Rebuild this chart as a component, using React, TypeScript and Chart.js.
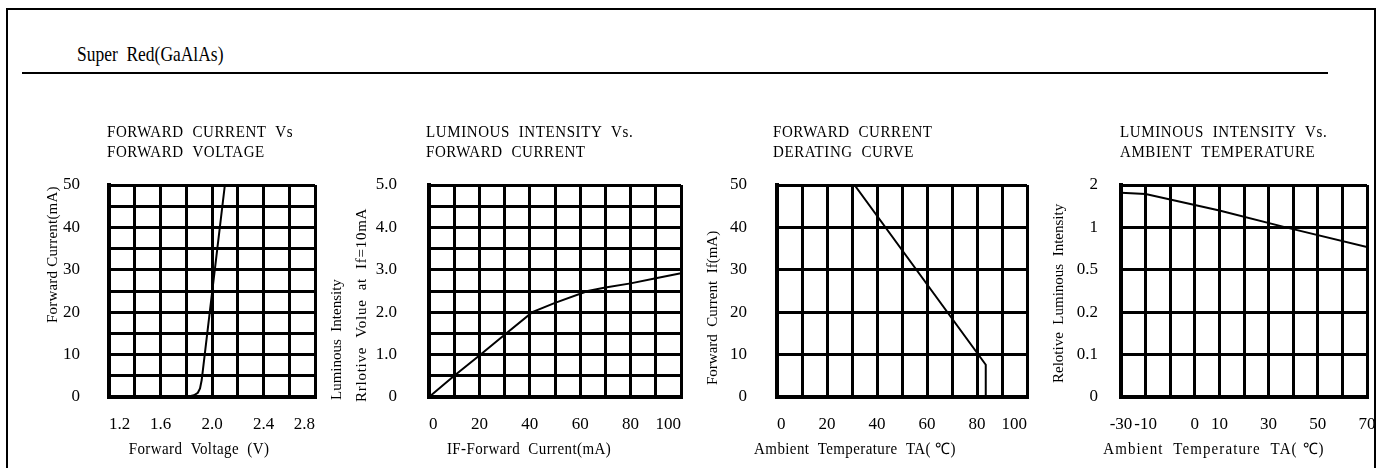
import React, { useEffect, useRef } from 'react';
import { Chart, registerables, LinearScale } from 'chart.js';

Chart.register(...registerables);

// ---------- data ----------
// 1. Forward current vs forward voltage
const fvVoltage = [1.2, 1.8, 1.86, 1.89, 1.907, 1.92, 2.1];
const fvCurrent = [0, 0, 0.4, 1.0, 2.0, 4.0, 50];
const fvGridX = [1.2, 1.4, 1.6, 1.8, 2.0, 2.2, 2.4, 2.6, 2.8];
const fvTickX = ['1.2', '', '1.6', '', '2.0', '', '2.4', '', '2.8'];
const fvGridY = [0, 5, 10, 15, 20, 25, 30, 35, 40, 45, 50];
const fvTickY = ['0', '', '10', '', '20', '', '30', '', '40', '', '50'];

// 2. Luminous intensity vs forward current
const liCurrent = [0, 10, 20, 30, 41, 50, 63, 70, 80, 90, 100];
const liRelative = [0, 0.5, 0.98, 1.47, 2.0, 2.22, 2.5, 2.58, 2.68, 2.8, 2.92];
const liGridX = [0, 10, 20, 30, 40, 50, 60, 70, 80, 90, 100];
const liTickX = ['0', '', '20', '', '40', '', '60', '', '80', '', '100'];
const liGridY = [0, 0.5, 1, 1.5, 2, 2.5, 3, 3.5, 4, 4.5, 5];
const liTickY = ['0', '', '1.0', '', '2.0', '', '3.0', '', '4.0', '', '5.0'];

// 3. Forward current derating curve
const drTemp = [0, 31, 83.5, 83.5];
const drCurrent = [50, 50, 7.6, 0];
const drGridX = [0, 10, 20, 30, 40, 50, 60, 70, 80, 90, 100];
const drTickX = ['0', '', '20', '', '40', '', '60', '', '80', '', '100'];
const drGridY = [0, 10, 20, 30, 40, 50];
const drTickY = ['0', '10', '20', '30', '40', '50'];

// 4. Luminous intensity vs ambient temperature
const atTemp = [-30, -20, 10, 37, 70];
const atRelative = [1.82, 1.79, 1.4, 1.0, 0.77];
const atGridX = [-30, -20, -10, 0, 10, 20, 30, 40, 50, 60, 70];
const atTickX = ['-30', '-10', '', '0', '10', '', '30', '', '50', '', '70'];
const atLevels = [0, 0.1, 0.2, 0.5, 1, 2];
const atTickY = ['0', '0.1', '0.2', '0.5', '1', '2'];

// texts
const headings = [
  ['FORWARD  CURRENT  Vs', 'FORWARD  VOLTAGE'],
  ['LUMINOUS  INTENSITY  Vs.', 'FORWARD  CURRENT'],
  ['FORWARD  CURRENT', 'DERATING  CURVE'],
  ['LUMINOUS  INTENSITY  Vs.', 'AMBIENT  TEMPERATURE'],
];
const xTitles = [
  'Forward  Voltage  (V)',
  'IF-Forward  Current(mA)',
  'Ambient  Temperature  TA( \u2103)',
  'Ambient  Temperature  TA( \u2103)',
];
const yTitles = [
  ['Forward Current(mA)'],
  ['Luminous  Intensity', 'Rrlotive  Volue  at  If=10mA'],
  ['Forward  Current  If(mA)'],
  ['Relotive  Luminous  Intensity'],
];

const FONT = '"Liberation Serif", "Times New Roman", serif';
Chart.defaults.font.family = FONT;
Chart.defaults.color = '#000';

// scale whose tick values are equally spaced (0, 0.1, 0.2, 0.5, 1, 2)
class LevelScale extends LinearScale {
  static id = 'level';
  levels(): number[] {
    return ((this.options as any).levels as number[]) || atLevels;
  }
  getPixelForValue(value: number) {
    const lv = this.levels();
    const n = lv.length - 1;
    let pos = 0;
    if (value >= lv[n]) pos = n;
    else if (value > lv[0]) {
      for (let i = 0; i < n; i++) {
        if (value <= lv[i + 1]) {
          pos = i + (value - lv[i]) / (lv[i + 1] - lv[i]);
          break;
        }
      }
    }
    return this.getPixelForDecimal(pos / n);
  }
  getValueForPixel(pixel: number) {
    const lv = this.levels();
    const n = lv.length - 1;
    const pos = this.getDecimalForPixel(pixel) * n;
    const i = Math.max(0, Math.min(n - 1, Math.floor(pos)));
    return lv[i] + (pos - i) * (lv[i + 1] - lv[i]);
  }
}
Chart.register(LevelScale as any);

function drawText(ctx: any, text: string, x: number, y: number, sy: number) {
  ctx.save();
  ctx.translate(x, y);
  ctx.scale(1, sy);
  ctx.fillText(text, 0, 0);
  ctx.restore();
}

const sheetText = {
  id: 'sheetText',
  afterDraw(chart: any, _args: any, opts: any) {
    const { ctx, chartArea: a } = chart;
    ctx.save();
    ctx.fillStyle = '#000';
    // heading
    ctx.font = `15px ${FONT}`;
    ctx.letterSpacing = '0.6px';
    ctx.textAlign = 'left';
    ctx.textBaseline = 'alphabetic';
    (opts.heading as string[]).forEach((t, i) => {
      drawText(ctx, t, a.left + opts.headingDx, a.top - 48 + i * 20, 1.12);
    });
    // x title
    ctx.letterSpacing = `${opts.xTitleLs}px`;
    ctx.textAlign = 'center';
    drawText(ctx, opts.xTitle, (a.left + a.right) / 2 + opts.xTitleDx, a.bottom + 57, 1.05);
    // y titles
    (opts.yTitles as any[]).forEach((t) => {
      ctx.save();
      ctx.letterSpacing = `${t.ls}px`;
      ctx.translate(a.left + t.dx, a.bottom + t.dy);
      ctx.rotate(-Math.PI / 2);
      ctx.textAlign = 'left';
      ctx.textBaseline = 'middle';
      ctx.fillText(t.text, 0, 0);
      ctx.restore();
    });
    ctx.restore();
  },
};

type Spec = {
  left: number;
  width: number;
  yAxisWidth: number;
  padRight: number;
  yPad: number;
  xAlign: string;
  xs: number[];
  ys: number[];
  xGrid: number[];
  xTicks: string[];
  yGrid: number[];
  yTicks: string[];
  yType: string;
  heading: string[];
  headingDx: number;
  xTitle: string;
  xTitleDx: number;
  xTitleLs: number;
  yTitles: { text: string; dx: number; dy: number; ls: number }[];
};

const TOP = 110;
const HEIGHT = 358;
const PLOT_TOP = 75;
const X_AXIS_H = 71;

function makeConfig(s: Spec): any {
  const gridOpts = { color: '#000', lineWidth: 3, drawTicks: false };
  const borderOpts = { display: true, color: '#000', width: 4 };
  return {
    type: 'line',
    data: {
      datasets: [
        {
          data: s.xs.map((x, i) => ({ x, y: s.ys[i] })),
          borderColor: '#000',
          borderWidth: 2,
          pointRadius: 0,
          tension: 0,
          fill: false,
        },
      ],
    },
    options: {
      responsive: false,
      animation: false,
      events: [],
      layout: { padding: { left: 0, top: PLOT_TOP, right: s.padRight, bottom: 0 } },
      plugins: {
        legend: { display: false },
        tooltip: { enabled: false },
        title: { display: false },
        sheetText: {
          heading: s.heading,
          headingDx: s.headingDx,
          xTitle: s.xTitle,
          xTitleDx: s.xTitleDx,
          xTitleLs: s.xTitleLs,
          yTitles: s.yTitles,
        },
      },
      scales: {
        x: {
          type: 'linear',
          min: s.xGrid[0],
          max: s.xGrid[s.xGrid.length - 1],
          grid: gridOpts,
          border: borderOpts,
          afterBuildTicks: (sc: any) => {
            sc.ticks = s.xGrid.map((v) => ({ value: v }));
          },
          afterFit: (sc: any) => {
            sc.height = X_AXIS_H;
            sc.paddingLeft = 0;
            sc.paddingRight = 0;
          },
          ticks: {
            autoSkip: false,
            maxRotation: 0,
            align: s.xAlign,
            padding: 17,
            font: { size: 17 },
            callback: (_v: any, i: number) => s.xTicks[i],
          },
        },
        y: {
          type: s.yType,
          levels: atLevels,
          min: s.yGrid[0],
          max: s.yGrid[s.yGrid.length - 1],
          grid: gridOpts,
          border: borderOpts,
          afterBuildTicks: (sc: any) => {
            sc.ticks = s.yGrid.map((v) => ({ value: v }));
          },
          afterFit: (sc: any) => {
            sc.width = s.yAxisWidth;
            sc.paddingTop = 0;
            sc.paddingBottom = 0;
          },
          ticks: {
            autoSkip: false,
            padding: s.yPad,
            font: { size: 17 },
            callback: (_v: any, i: number) => s.yTicks[i],
          },
        },
      },
    },
    plugins: [sheetText],
  };
}

const specs: Spec[] = [
  {
    left: 30, width: 310, yAxisWidth: 79, padRight: 25, yPad: 29, xAlign: 'inner',
    xs: fvVoltage, ys: fvCurrent, xGrid: fvGridX, xTicks: fvTickX, yGrid: fvGridY, yTicks: fvTickY,
    yType: 'linear', heading: headings[0], headingDx: -2, xTitle: xTitles[0], xTitleDx: -13, xTitleLs: 0.4,
    yTitles: [{ text: yTitles[0][0], dx: -56, dy: -74, ls: 0.2 }],
  },
  {
    left: 320, width: 390, yAxisWidth: 109, padRight: 29, yPad: 32, xAlign: 'inner',
    xs: liCurrent, ys: liRelative, xGrid: liGridX, xTicks: liTickX, yGrid: liGridY, yTicks: liTickY,
    yType: 'linear', heading: headings[1], headingDx: -3, xTitle: xTitles[1], xTitleDx: -26, xTitleLs: 0.4,
    yTitles: [
      { text: yTitles[1][0], dx: -91.5, dy: 3, ls: 0 },
      { text: yTitles[1][1], dx: -66.5, dy: 5, ls: 0.75 },
    ],
  },
  {
    left: 690, width: 370, yAxisWidth: 87, padRight: 33, yPad: 30, xAlign: 'inner',
    xs: drTemp, ys: drCurrent, xGrid: drGridX, xTicks: drTickX, yGrid: drGridY, yTicks: drTickY,
    yType: 'linear', heading: headings[2], headingDx: -4, xTitle: xTitles[2], xTitleDx: -47, xTitleLs: 0.4,
    yTitles: [{ text: yTitles[2][0], dx: -64, dy: -12, ls: 0 }],
  },
  {
    left: 1040, width: 336, yAxisWidth: 81, padRight: 9, yPad: 23, xAlign: 'center',
    xs: atTemp, ys: atRelative, xGrid: atGridX, xTicks: atTickX, yGrid: atLevels, yTicks: atTickY,
    yType: 'level', heading: headings[3], headingDx: -1, xTitle: xTitles[3], xTitleDx: -30, xTitleLs: 1.1,
    yTitles: [{ text: yTitles[3][0], dx: -62, dy: -14, ls: 0 }],
  },
];

function SheetChart({ spec }: { spec: Spec }) {
  const ref = useRef<HTMLCanvasElement | null>(null);
  useEffect(() => {
    if (!ref.current) return;
    const chart = new Chart(ref.current, makeConfig(spec));
    return () => chart.destroy();
  }, [spec]);
  return (
    <canvas
      ref={ref}
      width={spec.width}
      height={HEIGHT}
      style={{ position: 'absolute', left: spec.left, top: TOP, width: spec.width, height: HEIGHT, display: 'block' }}
    />
  );
}

export default function App() {
  useEffect(() => {
    document.body.style.margin = '0';
  }, []);
  return (
    <div
      style={{
        position: 'absolute',
        left: 0,
        top: 0,
        width: 1386,
        height: 468,
        overflow: 'hidden',
        background: '#fff',
      }}
    >
      <div
        style={{
          position: 'absolute',
          left: 6,
          top: 8,
          width: 1366,
          height: 520,
          border: '2px solid #000',
          borderBottom: 'none',
        }}
      />
      <div
        style={{
          position: 'absolute',
          left: 77,
          top: 46,
          font: `18px ${FONT}`,
          lineHeight: '18px',
          whiteSpace: 'pre',
          color: '#000',
          transform: 'scale(0.97, 1.18)',
          transformOrigin: '0px 15px',
        }}
      >
        {'Super  Red(GaAlAs)'}
      </div>
      <div style={{ position: 'absolute', left: 22, top: 72, width: 1306, height: 2, background: '#000' }} />
      {specs.map((s, i) => (
        <SheetChart key={i} spec={s} />
      ))}
    </div>
  );
}
